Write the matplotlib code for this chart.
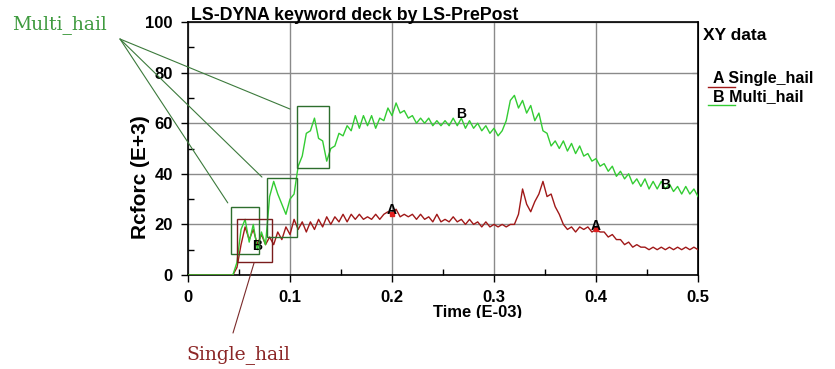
import numpy as np
import matplotlib
matplotlib.use('Agg')
import matplotlib.pyplot as plt
from matplotlib.patches import Rectangle, ConnectionPatch
from matplotlib.ticker import MultipleLocator

# sample times (E-03 s), shared by both rcforc curves
t_ms = [0.000, 0.004, 0.008, 0.012, 0.016, 0.020, 0.024, 0.028, 0.032, 0.036,
        0.040, 0.044, 0.048, 0.052, 0.056, 0.060, 0.064, 0.068, 0.072, 0.076,
        0.080, 0.084, 0.088, 0.092, 0.096, 0.100, 0.104, 0.108, 0.112, 0.116,
        0.120, 0.124, 0.128, 0.132, 0.136, 0.140, 0.144, 0.148, 0.152, 0.156,
        0.160, 0.164, 0.168, 0.172, 0.176, 0.180, 0.184, 0.188, 0.192, 0.196,
        0.200, 0.204, 0.208, 0.212, 0.216, 0.220, 0.224, 0.228, 0.232, 0.236,
        0.240, 0.244, 0.248, 0.252, 0.256, 0.260, 0.264, 0.268, 0.272, 0.276,
        0.280, 0.284, 0.288, 0.292, 0.296, 0.300, 0.304, 0.308, 0.312, 0.316,
        0.320, 0.324, 0.328, 0.332, 0.336, 0.340, 0.344, 0.348, 0.352, 0.356,
        0.360, 0.364, 0.368, 0.372, 0.376, 0.380, 0.384, 0.388, 0.392, 0.396,
        0.400, 0.404, 0.408, 0.412, 0.416, 0.420, 0.424, 0.428, 0.432, 0.436,
        0.440, 0.444, 0.448, 0.452, 0.456, 0.460, 0.464, 0.468, 0.472, 0.476,
        0.480, 0.484, 0.488, 0.492, 0.496, 0.500]

# A: Single_hail contact force (E+3)
single_hail = [0, 0, 0, 0, 0, 0, 0, 0, 0, 0,
               0, 0, 3, 12, 19, 14, 18, 12, 16, 12,
               15, 12, 17, 14, 19, 16, 22, 18, 21, 17,
               21, 18, 22, 19, 23, 20, 23, 21, 24, 21,
               24, 22, 24, 22, 23, 22, 24, 22, 24, 25,
               24, 26, 23, 24, 23, 24, 22, 24, 22, 23,
               21, 24, 21, 22, 21, 23, 21, 22, 20, 22,
               20, 21, 19, 21, 19, 20, 19, 20, 19, 20,
               20, 24, 34, 28, 25, 29, 32, 37, 31, 32,
               27, 24, 20, 18, 19, 17, 19, 18, 19, 17,
               18, 17, 17, 15, 16, 14, 14, 12, 13, 11,
               12, 11, 11, 10, 11, 10, 11, 10, 11, 10,
               11, 10, 11, 10, 11, 10]

# B: Multi_hail contact force (E+3)
multi_hail = [0, 0, 0, 0, 0, 0, 0, 0, 0, 0,
              0, 0, 5, 18, 22, 13, 20, 10, 17, 12,
              31, 37, 32, 28, 24, 30, 32, 43, 47, 56,
              57, 62, 54, 53, 45, 50, 51, 56, 55, 59,
              57, 63, 58, 63, 59, 63, 58, 62, 61, 66,
              63, 68, 64, 65, 62, 63, 60, 62, 60, 62,
              59, 61, 59, 61, 59, 62, 59, 62, 58, 61,
              58, 60, 57, 59, 56, 58, 55, 57, 61, 69,
              71, 66, 69, 64, 67, 61, 64, 57, 56, 51,
              53, 50, 53, 49, 52, 48, 51, 47, 48, 45,
              46, 43, 44, 41, 43, 39, 41, 38, 40, 36,
              38, 35, 38, 34, 37, 34, 37, 34, 36, 33,
              35, 32, 35, 32, 34, 31]

x_ticks = [0, 0.1, 0.2, 0.3, 0.4, 0.5]
x_tick_labels = ['0', '0.1', '0.2', '0.3', '0.4', '0.5']
y_ticks = [0, 20, 40, 60, 80, 100]

# curve label letters: (index into t_ms, letter, curve)
letter_marks = [(50, 'A', single_hail), (100, 'A', single_hail),
                (17, 'B', multi_hail), (67, 'B', multi_hail), (117, 'B', multi_hail)]

plt.rcParams['font.family'] = ['Liberation Sans', 'DejaVu Sans']
plt.rcParams['font.weight'] = 'bold'

W, H = 835, 369
fig = plt.figure(figsize=(W / 100, H / 100), dpi=100)
ax = fig.add_axes([188 / W, 1 - 275 / H, 510 / W, 253 / H])

def fx(px):
    return px / W

def fy(py):
    return 1 - py / H

red = '#a01818'
green = '#33cc33'
t = np.array(t_ms)
ax.plot(t, single_hail, color=red, lw=1.0, zorder=3)
ax.plot(t, multi_hail, color=green, lw=1.0, zorder=4)

for i, letter, curve in letter_marks:
    if letter == 'A':
        ax.plot(t[i], curve[i], 's', color='#e02020', ms=3, zorder=5)
    ax.text(t[i], curve[i] + 1.5, letter, ha='center', va='center',
            fontsize=10, fontweight='bold', color='black', zorder=6)

ax.set_xlim(0, 0.5)
ax.set_ylim(0, 100)
ax.set_xticks(x_ticks)
ax.set_xticklabels(x_tick_labels)
ax.set_yticks(y_ticks)
ax.xaxis.set_minor_locator(MultipleLocator(0.05))
ax.yaxis.set_minor_locator(MultipleLocator(10))
ax.tick_params(which='major', direction='out', length=5, width=1,
               labelsize=12, pad=6)
ax.tick_params(which='minor', direction='in', length=4, width=1)
for lab in ax.get_xticklabels() + ax.get_yticklabels():
    lab.set_fontweight('bold')
ax.grid(True, which='major', color='#8a8a8a', lw=1)
ax.set_axisbelow(True)
for sp in ax.spines.values():
    sp.set_linewidth(1.2)

sec = ax.secondary_yaxis('right')
sec.set_yticks([20, 40, 60, 80])
sec.tick_params(direction='in', length=4, labelright=False)

ax.text(0.003, 100.6, 'LS-DYNA keyword deck by LS-PrePost', ha='left',
        va='baseline', fontsize=12.8, fontweight='bold')

fig.text(fx(140), fy(177), 'Rcforc (E+3)', rotation=90, ha='center', va='center',
         fontsize=15, fontweight='bold')
fig.text(fx(478), fy(305), 'Time (E-03)', ha='center', va='top',
         fontsize=12, fontweight='bold')
# bottom of the x label is cut off
fig.patches.append(Rectangle((fx(420), 0), fx(120), fy(318), transform=fig.transFigure,
                             facecolor='white', edgecolor='none', zorder=10))

# legend block on the right
fig.text(fx(703), fy(35), 'XY data', ha='left', va='center', fontsize=12.5,
         fontweight='bold')
fig.text(fx(713), fy(78), 'A Single_hail', ha='left', va='center', fontsize=11.5,
         fontweight='bold')
fig.text(fx(713), fy(97), 'B Multi_hail', ha='left', va='center', fontsize=11.5,
         fontweight='bold')
fig.add_artist(plt.Line2D([fx(708), fx(735)], [fy(87), fy(87)], color=red, lw=1,
                          transform=fig.transFigure))
fig.add_artist(plt.Line2D([fx(708), fx(735)], [fy(105), fy(105)], color=green, lw=1,
                          transform=fig.transFigure))

# boxes around impact peaks
box_green = '#2d6e2d'
box_red = '#7a1c1c'
boxes = [((0.042, 8.3), 0.028, 18.6, box_green),
         ((0.048, 5.1), 0.034, 17.0, box_red),
         ((0.0775, 15.0), 0.0295, 23.3, box_green),
         ((0.107, 42.3), 0.031, 24.5, box_green)]
for (x0, y0), w, h, c in boxes:
    ax.add_patch(Rectangle((x0, y0), w, h, fill=False, edgecolor=c, lw=1.0,
                           zorder=7, clip_on=False))

fig.text(fx(12), fy(25), 'Multi_hail', ha='left', va='center', fontsize=13.5,
         family='DejaVu Serif', fontweight='normal', color='#3e9a3e')
fig.text(fx(186), fy(355), 'Single_hail', ha='left', va='center', fontsize=13.5,
         family='DejaVu Serif', fontweight='normal', color='#8b2525')

for xb, yb in [(0.039, 28.5), (0.0725, 38.7), (0.100, 65.6)]:
    fig.add_artist(ConnectionPatch(xyA=(fx(120), fy(39)), coordsA=fig.transFigure,
                                   xyB=(xb, yb), coordsB=ax.transData,
                                   color='#3c7a3c', lw=0.8))
fig.add_artist(ConnectionPatch(xyA=(fx(233), fy(333)), coordsA=fig.transFigure,
                               xyB=(0.0647, 4.7), coordsB=ax.transData,
                               color='#7a2a2a', lw=0.8))

fig.savefig('out.png', dpi=100)
